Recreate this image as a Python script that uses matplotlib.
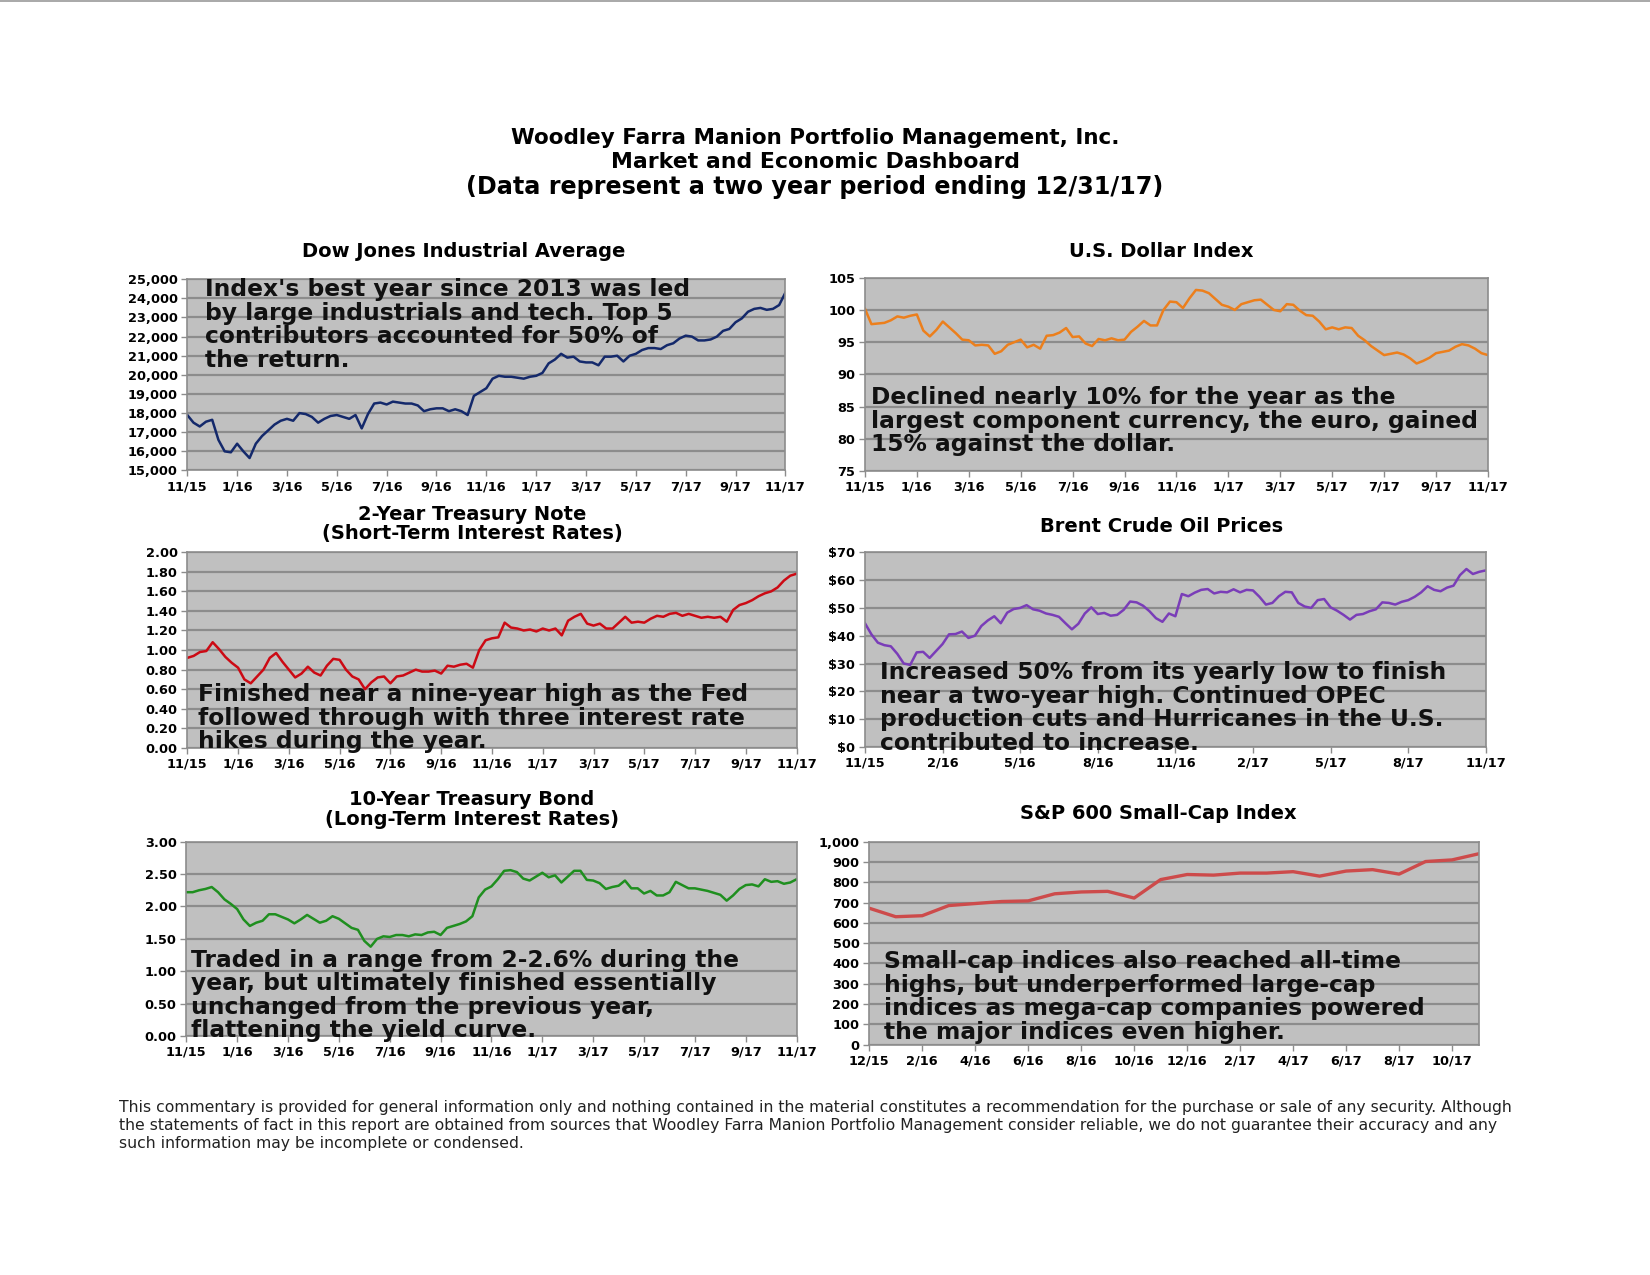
import numpy as np
import matplotlib
matplotlib.use("Agg")
import matplotlib.pyplot as plt
from matplotlib.ticker import FuncFormatter

plt.rcParams['font.family'] = ['DejaVu Sans']

# ---------------- data ----------------
dow = [17900, 17500, 17300, 17550, 17650, 16600, 16000, 15950, 16400, 16000,
       15650, 16400, 16800, 17100, 17400, 17600, 17700, 17600, 18000, 17950,
       17800, 17500, 17700, 17850, 17900, 17800, 17700, 17900, 17200, 17950,
       18500, 18550, 18450, 18600, 18550, 18500, 18500, 18400, 18100, 18200,
       18250, 18250, 18100, 18200, 18100, 17900, 18900, 19100, 19300, 19800,
       19950, 19900, 19900, 19850, 19800, 19900, 19950, 20100, 20600, 20800,
       21100, 20900, 20950, 20700, 20650, 20650, 20500, 20950, 20950, 21000,
       20700, 21000, 21100, 21300, 21400, 21400, 21350, 21550, 21650, 21900,
       22050, 22000, 21800, 21800, 21850, 22000, 22300, 22400, 22750, 22950,
       23300, 23450, 23500, 23400, 23450, 23650, 24300]

usd = [100.2, 97.8, 97.9, 98.0, 98.4, 99.0, 98.8, 99.1, 99.3, 96.8,
       95.9, 96.9, 98.2, 97.3, 96.4, 95.4, 95.3, 94.5, 94.6, 94.5,
       93.2, 93.6, 94.6, 95.0, 95.4, 94.2, 94.6, 94.0, 96.0, 96.1,
       96.5, 97.2, 95.8, 95.9, 94.8, 94.4, 95.5, 95.3, 95.6, 95.3,
       95.4, 96.6, 97.4, 98.3, 97.6, 97.6, 100.0, 101.3, 101.2, 100.3,
       101.8, 103.1, 103.0, 102.6, 101.7, 100.8, 100.5, 100.0, 100.9, 101.2,
       101.5, 101.6, 100.8, 100.0, 99.8, 100.9, 100.8, 99.9, 99.2, 99.1,
       98.2, 97.0, 97.3, 97.0, 97.3, 97.2, 96.0, 95.3, 94.4, 93.7,
       93.0, 93.2, 93.4, 93.1, 92.5, 91.7, 92.1, 92.6, 93.3, 93.5,
       93.7, 94.3, 94.7, 94.5, 94.0, 93.3, 93.0]

two_year = [0.92, 0.94, 0.98, 0.99, 1.08, 1.01, 0.93, 0.87, 0.82, 0.70,
            0.66, 0.73, 0.80, 0.92, 0.97, 0.88, 0.80, 0.72, 0.76, 0.83,
            0.77, 0.74, 0.84, 0.91, 0.90, 0.80, 0.73, 0.70, 0.60, 0.67,
            0.72, 0.73, 0.66, 0.73, 0.74, 0.77, 0.80, 0.78, 0.78, 0.79,
            0.76, 0.84, 0.83, 0.85, 0.86, 0.82, 1.00, 1.10, 1.12, 1.13,
            1.28, 1.23, 1.22, 1.20, 1.21, 1.19, 1.22, 1.20, 1.22, 1.15,
            1.30, 1.34, 1.37, 1.27, 1.25, 1.27, 1.22, 1.22, 1.28, 1.34,
            1.28, 1.29, 1.28, 1.32, 1.35, 1.34, 1.37, 1.38, 1.35, 1.37,
            1.35, 1.33, 1.34, 1.33, 1.34, 1.29, 1.41, 1.46, 1.48, 1.51,
            1.55, 1.58, 1.60, 1.64, 1.71, 1.76, 1.78]

brent = [44.5, 40.5, 37.5, 36.6, 36.2, 33.5, 30.0, 29.5, 34.0, 34.2,
         32.0, 34.5, 37.0, 40.5, 40.6, 41.5, 39.2, 40.0, 43.5, 45.5,
         47.0, 44.5, 48.3, 49.6, 50.0, 51.0, 49.5, 49.0, 48.0, 47.5,
         46.8, 44.5, 42.3, 44.3, 48.0, 50.2, 47.8, 48.2, 47.2, 47.5,
         49.3, 52.3, 52.0, 50.8, 48.8, 46.3, 45.0, 48.0, 47.0, 55.0,
         54.2, 55.5, 56.5, 56.8, 55.2, 55.8, 55.6, 56.7, 55.6, 56.5,
         56.3, 54.0, 51.2, 51.8, 54.2, 55.8, 55.6, 51.8, 50.5, 50.0,
         52.8, 53.2, 50.2, 49.0, 47.5, 45.8, 47.5, 47.8, 48.8, 49.5,
         52.0, 51.8, 51.2, 52.2, 52.8, 54.0, 55.6, 57.8, 56.5, 56.0,
         57.3, 58.0, 61.8, 64.0, 62.2, 63.0, 63.5]

ten_year = [2.22, 2.22, 2.25, 2.27, 2.30, 2.22, 2.11, 2.04, 1.96, 1.80,
            1.70, 1.75, 1.78, 1.88, 1.88, 1.84, 1.80, 1.74, 1.80, 1.87,
            1.81, 1.75, 1.78, 1.85, 1.81, 1.74, 1.67, 1.64, 1.47, 1.38,
            1.50, 1.54, 1.53, 1.56, 1.56, 1.54, 1.57, 1.56, 1.60, 1.61,
            1.56, 1.67, 1.70, 1.73, 1.77, 1.85, 2.14, 2.26, 2.31, 2.42,
            2.55, 2.56, 2.53, 2.43, 2.40, 2.46, 2.52, 2.45, 2.48, 2.37,
            2.46, 2.55, 2.55, 2.41, 2.40, 2.36, 2.27, 2.30, 2.32, 2.40,
            2.28, 2.28, 2.20, 2.24, 2.17, 2.17, 2.22, 2.38, 2.33, 2.28,
            2.28, 2.26, 2.24, 2.21, 2.18, 2.09, 2.17, 2.27, 2.33, 2.34,
            2.31, 2.42, 2.38, 2.39, 2.35, 2.37, 2.42]

sp600 = [672, 630, 635, 685, 695, 705, 708, 743, 752, 755, 722, 813,
         838, 835, 845, 845, 852, 830, 855, 862, 840, 902, 910, 940]

labels_2m = ["11/15", "1/16", "3/16", "5/16", "7/16", "9/16", "11/16",
             "1/17", "3/17", "5/17", "7/17", "9/17", "11/17"]
labels_3m = ["11/15", "2/16", "5/16", "8/16", "11/16", "2/17", "5/17",
             "8/17", "11/17"]
labels_sp = ["12/15", "2/16", "4/16", "6/16", "8/16", "10/16", "12/16",
             "2/17", "4/17", "6/17", "8/17", "10/17"]

notes = {
    "dow": "Index's best year since 2013 was led\nby large industrials and tech. Top 5\ncontributors accounted for 50% of\nthe return.",
    "usd": "Declined nearly 10% for the year as the\nlargest component currency, the euro, gained\n15% against the dollar.",
    "two": "Finished near a nine-year high as the Fed\nfollowed through with three interest rate\nhikes during the year.",
    "brent": "Increased 50% from its yearly low to finish\nnear a two-year high. Continued OPEC\nproduction cuts and Hurricanes in the U.S.\ncontributed to increase.",
    "ten": "Traded in a range from 2-2.6% during the\nyear, but ultimately finished essentially\nunchanged from the previous year,\nflattening the yield curve.",
    "sp": "Small-cap indices also reached all-time\nhighs, but underperformed large-cap\nindices as mega-cap companies powered\nthe major indices even higher.",
}

# ---------------- figure ----------------
fig = plt.figure(figsize=(16.5, 12.75), dpi=100)
fig.patch.set_facecolor("white")

BG = "#c0c0c0"
GRID = "#8c8c8c"
TICKFS = 9.3
NOTEFS = 16.8


def style_axes(ax, ylim, yticks, yfmt, xlim, xticks, xlabels):
    ax.set_facecolor(BG)
    ax.set_xlim(*xlim)
    ax.set_ylim(*ylim)
    ax.set_yticks(yticks)
    ax.yaxis.set_major_formatter(FuncFormatter(yfmt))
    ax.set_xticks(xticks)
    ax.set_xticklabels(xlabels)
    ax.grid(axis="y", color=GRID, lw=1.6)
    ax.set_axisbelow(True)
    for s in ax.spines.values():
        s.set_color(GRID)
        s.set_linewidth(1.2)
    ax.tick_params(axis="both", colors=GRID, length=4, width=1.0,
                   labelcolor="black", labelsize=TICKFS)
    for lab in ax.get_xticklabels() + ax.get_yticklabels():
        lab.set_fontweight("bold")
    ax.tick_params(axis="x", pad=3)
    ax.tick_params(axis="y", pad=3)


def note(ax, txt, x, y):
    ax.text(x, y, txt, transform=ax.transAxes, ha="left", va="top",
            fontsize=NOTEFS, fontweight="bold", color="#111111",
            linespacing=1.03, clip_on=False, zorder=5)


comma = lambda v, p: f"{int(v):,}"
two_dec = lambda v, p: f"{v:.2f}"
plain = lambda v, p: f"{int(v)}"
dollar = lambda v, p: f"${int(v)}"

# Dow
ax = fig.add_axes([0.1135, 0.631, 0.3625, 0.150])
x = np.linspace(0, 24, len(dow))
ax.plot(x, dow, color="#14296b", lw=1.8)
style_axes(ax, (15000, 25000), np.arange(15000, 25001, 1000), comma,
           (0, 24), np.arange(0, 25, 2), labels_2m)
note(ax, notes["dow"], 0.03, 1.005)

# USD
ax = fig.add_axes([0.5242, 0.6304, 0.3776, 0.1518])
x = np.linspace(0, 24, len(usd))
ax.plot(x, usd, color="#ec7f1c", lw=1.8)
style_axes(ax, (75, 105), np.arange(75, 106, 5), plain,
           (0, 24), np.arange(0, 25, 2), labels_2m)
note(ax, notes["usd"], 0.01, 0.44)

# 2-year
ax = fig.add_axes([0.1135, 0.4134, 0.3693, 0.1535])
x = np.linspace(0, 24, len(two_year))
ax.plot(x, two_year, color="#cc0a14", lw=1.8)
style_axes(ax, (0, 2.0), np.arange(0, 2.01, 0.2), two_dec,
           (0, 24), np.arange(0, 25, 2), labels_2m)
note(ax, notes["two"], 0.018, 0.33)

# Brent
ax = fig.add_axes([0.5242, 0.4142, 0.3763, 0.1526])
x = np.linspace(0, 24, len(brent))
ax.plot(x, brent, color="#7a3db8", lw=1.8)
style_axes(ax, (0, 70), np.arange(0, 71, 10), dollar,
           (0, 24), np.arange(0, 25, 3), labels_3m)
note(ax, notes["brent"], 0.024, 0.44)

# 10-year
ax = fig.add_axes([0.1129, 0.1873, 0.3699, 0.1526])
x = np.linspace(0, 24, len(ten_year))
ax.plot(x, ten_year, color="#1f8f1f", lw=1.8)
style_axes(ax, (0, 3.0), np.arange(0, 3.01, 0.5), two_dec,
           (0, 24), np.arange(0, 25, 2), labels_2m)
note(ax, notes["ten"], 0.007, 0.45)

# S&P 600
ax = fig.add_axes([0.5268, 0.1807, 0.3693, 0.1592])
x = np.arange(len(sp600))
ax.plot(x, sp600, color="#cd4b4b", lw=2.4)
style_axes(ax, (0, 1000), np.arange(0, 1001, 100), comma,
           (0, len(sp600) - 1), np.arange(0, len(sp600), 2), labels_sp)
note(ax, notes["sp"], 0.024, 0.465)

# ---------------- titles ----------------
fig.text(0.494, 0.892, "Woodley Farra Manion Portfolio Management, Inc.",
         ha="center", va="center", fontsize=15.5, fontweight="bold")
fig.text(0.494, 0.873, "Market and Economic Dashboard",
         ha="center", va="center", fontsize=15.8, fontweight="bold")
fig.text(0.494, 0.853, "(Data represent a two year period ending 12/31/17)",
         ha="center", va="center", fontsize=17.2, fontweight="bold")

TFS = 14
fig.text(0.281, 0.803, "Dow Jones Industrial Average", ha="center",
         va="center", fontsize=TFS, fontweight="bold")
fig.text(0.704, 0.803, "U.S. Dollar Index", ha="center", va="center",
         fontsize=TFS, fontweight="bold")
fig.text(0.286, 0.589, "2-Year Treasury Note\n(Short-Term Interest Rates)",
         ha="center", va="center", fontsize=TFS, fontweight="bold",
         linespacing=1.05)
fig.text(0.704, 0.587, "Brent Crude Oil Prices", ha="center", va="center",
         fontsize=TFS, fontweight="bold")
fig.text(0.286, 0.365, "10-Year Treasury Bond\n(Long-Term Interest Rates)",
         ha="center", va="center", fontsize=TFS, fontweight="bold",
         linespacing=1.05)
fig.text(0.702, 0.362, "S&P 600 Small-Cap Index", ha="center", va="center",
         fontsize=TFS, fontweight="bold")

footer = ("This commentary is provided for general information only and nothing contained in the material constitutes a recommendation for the purchase or sale of any security. Although\n"
          "the statements of fact in this report are obtained from sources that Woodley Farra Manion Portfolio Management consider reliable, we do not guarantee their accuracy and any\n"
          "such information may be incomplete or condensed.")
fig.text(0.072, 0.137, footer, ha="left", va="top", fontsize=11.25,
         color="#222222", linespacing=1.22)

# thin border line at top of page
fig.add_artist(plt.Line2D([0, 1], [0.999, 0.999], color="#9a9a9a", lw=1.2))

fig.savefig("out.png", dpi=100, facecolor="white")
